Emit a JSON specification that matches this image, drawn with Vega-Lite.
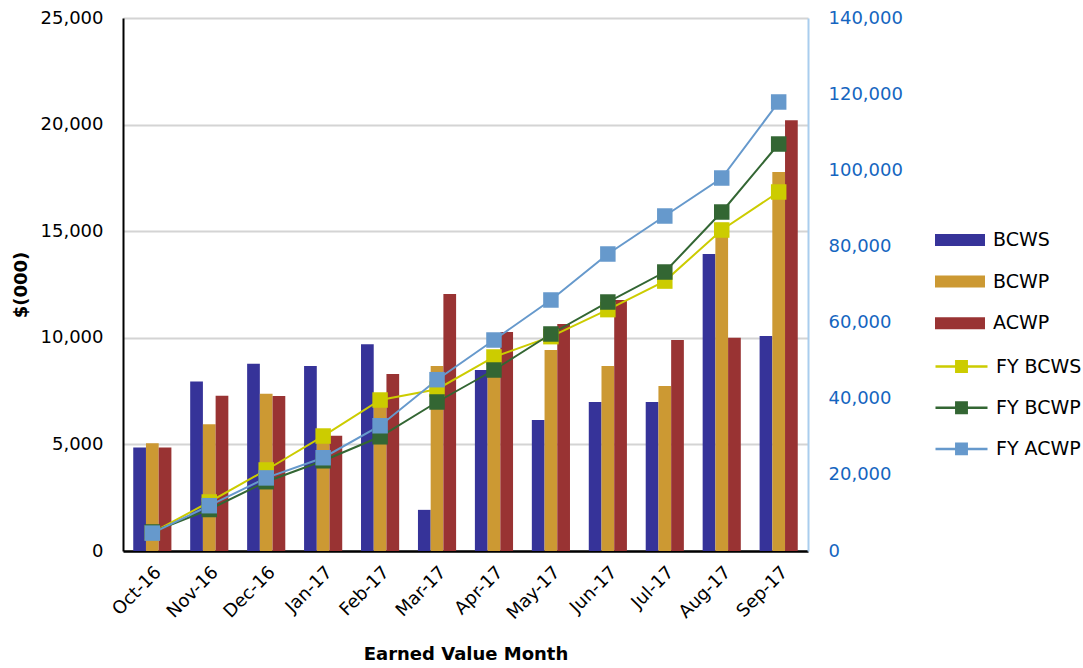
{
  "$schema": "https://vega.github.io/schema/vega-lite/v6.json",
  "width": 685,
  "height": 533,
  "autosize": {"type": "none"},
  "padding": {"left": 123, "top": 18, "right": 275, "bottom": 117},
  "background": "white",
  "config": {
    "font": "DejaVu Sans",
    "view": {"stroke": null},
    "axis": {"labelFont": "DejaVu Sans", "titleFont": "DejaVu Sans", "ticks": false, "labelColor": "#000000", "titleColor": "#000000"},
    "legend": {"padding": 0, "labelFont": "DejaVu Sans"}
  },
  "datasets": {
    "bars": [
      {"month": "Oct-16", "series": "BCWS", "value": 4850}, {"month": "Oct-16", "series": "BCWP", "value": 5050}, {"month": "Oct-16", "series": "ACWP", "value": 4850},
      {"month": "Nov-16", "series": "BCWS", "value": 7950}, {"month": "Nov-16", "series": "BCWP", "value": 5950}, {"month": "Nov-16", "series": "ACWP", "value": 7280},
      {"month": "Dec-16", "series": "BCWS", "value": 8780}, {"month": "Dec-16", "series": "BCWP", "value": 7380}, {"month": "Dec-16", "series": "ACWP", "value": 7270},
      {"month": "Jan-17", "series": "BCWS", "value": 8680}, {"month": "Jan-17", "series": "BCWP", "value": 5200}, {"month": "Jan-17", "series": "ACWP", "value": 5400},
      {"month": "Feb-17", "series": "BCWS", "value": 9700}, {"month": "Feb-17", "series": "BCWP", "value": 7000}, {"month": "Feb-17", "series": "ACWP", "value": 8300},
      {"month": "Mar-17", "series": "BCWS", "value": 1930}, {"month": "Mar-17", "series": "BCWP", "value": 8680}, {"month": "Mar-17", "series": "ACWP", "value": 12050},
      {"month": "Apr-17", "series": "BCWS", "value": 8490}, {"month": "Apr-17", "series": "BCWP", "value": 8200}, {"month": "Apr-17", "series": "ACWP", "value": 10270},
      {"month": "May-17", "series": "BCWS", "value": 6150}, {"month": "May-17", "series": "BCWP", "value": 9430}, {"month": "May-17", "series": "ACWP", "value": 10650},
      {"month": "Jun-17", "series": "BCWS", "value": 6990}, {"month": "Jun-17", "series": "BCWP", "value": 8680}, {"month": "Jun-17", "series": "ACWP", "value": 11770},
      {"month": "Jul-17", "series": "BCWS", "value": 6990}, {"month": "Jul-17", "series": "BCWP", "value": 7740}, {"month": "Jul-17", "series": "ACWP", "value": 9900},
      {"month": "Aug-17", "series": "BCWS", "value": 13930}, {"month": "Aug-17", "series": "BCWP", "value": 15400}, {"month": "Aug-17", "series": "ACWP", "value": 10000},
      {"month": "Sep-17", "series": "BCWS", "value": 10080}, {"month": "Sep-17", "series": "BCWP", "value": 17780}, {"month": "Sep-17", "series": "ACWP", "value": 20200}
    ],
    "lines": [
      {"month": "Oct-16", "series": "FY BCWS", "value": 4800}, {"month": "Nov-16", "series": "FY BCWS", "value": 12870}, {"month": "Dec-16", "series": "FY BCWS", "value": 21280}, {"month": "Jan-17", "series": "FY BCWS", "value": 30200}, {"month": "Feb-17", "series": "FY BCWS", "value": 39660}, {"month": "Mar-17", "series": "FY BCWS", "value": 42500}, {"month": "Apr-17", "series": "FY BCWS", "value": 50960}, {"month": "May-17", "series": "FY BCWS", "value": 56300}, {"month": "Jun-17", "series": "FY BCWS", "value": 63400}, {"month": "Jul-17", "series": "FY BCWS", "value": 70900}, {"month": "Aug-17", "series": "FY BCWS", "value": 84310}, {"month": "Sep-17", "series": "FY BCWS", "value": 94300},
      {"month": "Oct-16", "series": "FY BCWP", "value": 5000}, {"month": "Nov-16", "series": "FY BCWP", "value": 10900}, {"month": "Dec-16", "series": "FY BCWP", "value": 18200}, {"month": "Jan-17", "series": "FY BCWP", "value": 23700}, {"month": "Feb-17", "series": "FY BCWP", "value": 30000}, {"month": "Mar-17", "series": "FY BCWP", "value": 39140}, {"month": "Apr-17", "series": "FY BCWP", "value": 47540}, {"month": "May-17", "series": "FY BCWP", "value": 57000}, {"month": "Jun-17", "series": "FY BCWP", "value": 65400}, {"month": "Jul-17", "series": "FY BCWP", "value": 73280}, {"month": "Aug-17", "series": "FY BCWP", "value": 89040}, {"month": "Sep-17", "series": "FY BCWP", "value": 106900},
      {"month": "Oct-16", "series": "FY ACWP", "value": 4700}, {"month": "Nov-16", "series": "FY ACWP", "value": 11900}, {"month": "Dec-16", "series": "FY ACWP", "value": 19200}, {"month": "Jan-17", "series": "FY ACWP", "value": 24500}, {"month": "Feb-17", "series": "FY ACWP", "value": 32900}, {"month": "Mar-17", "series": "FY ACWP", "value": 45000}, {"month": "Apr-17", "series": "FY ACWP", "value": 55420}, {"month": "May-17", "series": "FY ACWP", "value": 65930}, {"month": "Jun-17", "series": "FY ACWP", "value": 78010}, {"month": "Jul-17", "series": "FY ACWP", "value": 87990}, {"month": "Aug-17", "series": "FY ACWP", "value": 97970}, {"month": "Sep-17", "series": "FY ACWP", "value": 117940}
    ]
  },
  "encoding": {
    "x": {
      "field": "month", "type": "nominal",
      "sort": ["Oct-16", "Nov-16", "Dec-16", "Jan-17", "Feb-17", "Mar-17", "Apr-17", "May-17", "Jun-17", "Jul-17", "Aug-17", "Sep-17"],
      "scale": {"paddingInner": 0.33, "paddingOuter": 0.18},
      "axis": {
        "title": "Earned Value Month", "titleFontSize": 18, "titleFontWeight": "bold", "titlePadding": 23,
        "labelAngle": -45, "labelFontSize": 18, "labelPadding": 12, "domainColor": "#000000", "domainWidth": 2.5
      }
    }
  },
  "layer": [
    {
      "data": {"name": "bars"},
      "mark": {"type": "bar"},
      "encoding": {
        "xOffset": {"field": "series", "type": "nominal", "sort": ["BCWS", "BCWP", "ACWP"], "scale": {"paddingInner": 0, "paddingOuter": 0}},
        "y": {
          "field": "value", "type": "quantitative",
          "scale": {"domain": [0, 25000], "nice": false},
          "axis": {
            "title": "$(000)", "titleFontSize": 18, "titleFontWeight": "bold", "titlePadding": 10,
            "values": [0, 5000, 10000, 15000, 20000, 25000], "format": ",d",
            "labelFontSize": 18, "labelPadding": 20, "domainColor": "#000000", "domainWidth": 2,
            "grid": true, "gridColor": "#D4D4D4", "gridWidth": 2
          }
        },
        "color": {
          "field": "series", "type": "nominal",
          "scale": {"domain": ["BCWS", "BCWP", "ACWP"], "range": ["#363399", "#CC9933", "#993333"]},
          "legend": {
            "title": null, "orient": "none", "legendX": 817, "legendY": 202,
            "symbolType": "M-1.25,-0.3H1.25V0.3H-1.25Z", "symbolSize": 1600, "symbolStrokeWidth": 0,
            "labelFontSize": 19, "labelOffset": 13, "rowPadding": 11.6, "labelColor": "#000000"
          }
        }
      }
    },
    {
      "data": {"name": "lines"},
      "encoding": {
        "y": {
          "field": "value", "type": "quantitative",
          "scale": {"domain": [0, 140000], "nice": false},
          "axis": {
            "orient": "right", "title": null, "values": [0, 20000, 40000, 60000, 80000, 100000, 120000, 140000], "format": ",d",
            "labelFontSize": 18, "labelPadding": 20, "labelColor": "#1565C0", "domainColor": "#A9CDEE", "domainWidth": 2, "grid": false
          }
        }
      },
      "layer": [
        {
          "mark": {"type": "line", "strokeWidth": 2},
          "encoding": {
            "stroke": {
              "field": "series", "type": "nominal",
              "scale": {"domain": ["FY BCWS", "FY BCWP", "FY ACWP"], "range": ["#CCCC00", "#336633", "#6699CC"]},
              "legend": {
                "title": null, "orient": "none", "legendX": 817, "legendY": 327,
                "symbolType": "M-1.3,0H1.3M-0.26,-0.26H0.26V0.26H-0.26Z", "symbolSize": 1600, "symbolStrokeWidth": 2.5,
                "labelFontSize": 19, "labelOffset": 13, "rowPadding": 9.2, "labelColor": "#000000",
                "encode": {"symbols": {"update": {"fill": {"scale": "stroke", "field": "value"}}}}
              }
            }
          }
        },
        {
          "mark": {"type": "point", "shape": "square", "filled": true, "size": 240, "opacity": 1},
          "encoding": {
            "fill": {
              "field": "series", "type": "nominal",
              "scale": {"domain": ["FY BCWS", "FY BCWP", "FY ACWP"], "range": ["#CCCC00", "#336633", "#6699CC"]},
              "legend": null
            }
          }
        }
      ]
    }
  ],
  "resolve": {"scale": {"y": "independent", "color": "independent"}}
}
